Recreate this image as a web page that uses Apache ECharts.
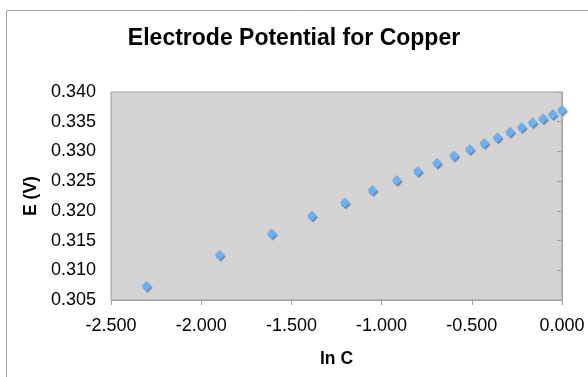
<!DOCTYPE html>
<html>
<head>
<meta charset="utf-8">
<script src="https://cdn.jsdelivr.net/npm/echarts@6/dist/echarts.min.js"></script>
<style>
html, body { margin: 0; padding: 0; background: #fff; }
#container { width: 588px; height: 377px; }
</style>
</head>
<body>
<div id="container"></div>
<script>
// ln C values and measured potentials
var lnC = [-2.303, -1.897, -1.609, -1.386, -1.204, -1.050, -0.916, -0.799, -0.693, -0.598,
           -0.511, -0.431, -0.357, -0.288, -0.223, -0.163, -0.105, -0.051, 0.000];
var potential = [0.3074, 0.3126, 0.3162, 0.3192, 0.3214, 0.3235, 0.3252, 0.3267, 0.3281, 0.3293,
                 0.3304, 0.3314, 0.3324, 0.3333, 0.3341, 0.3349, 0.3356, 0.3363, 0.3370];

var dom = document.getElementById("container");
var myChart = echarts.init(dom);

var points = lnC.map(function (x, i) { return [x, potential[i]]; });
var font = "'Liberation Sans', Arial, sans-serif";

var option = {
    animation: false,
    backgroundColor: '#fff',
    title: {
        text: 'Electrode Potential for Copper',
        left: 'center',
        top: 22,
        textStyle: { fontFamily: font, fontSize: 23, fontWeight: 'bold', color: '#000' }
    },
    graphic: [{
        type: 'rect',
        shape: { x: 6.5, y: 10.5, width: 640, height: 420 },
        style: { fill: null, stroke: '#a0a0a0', lineWidth: 1 },
        silent: true
    }],
    grid: {
        left: 111, top: 92, right: 26, bottom: 77,
        show: true,
        backgroundColor: '#d4d4d4',
        borderColor: '#a0a0a0',
        borderWidth: 1
    },
    xAxis: {
        type: 'value',
        min: -2.5, max: 0, interval: 0.5,
        name: 'ln C',
        nameLocation: 'middle',
        nameGap: 50,
        nameTextStyle: { fontFamily: font, fontSize: 17.5, fontWeight: 'bold', color: '#000' },
        axisLine: { show: true, onZero: false, lineStyle: { color: '#a0a0a0' } },
        axisTick: { show: true, length: 5, lineStyle: { color: '#a0a0a0' } },
        splitLine: { show: false },
        axisLabel: {
            fontFamily: font, fontSize: 18, color: '#000', margin: 17,
            formatter: function (v) { return v.toFixed(3); }
        }
    },
    yAxis: {
        type: 'value',
        min: 0.305, max: 0.340, interval: 0.005,
        name: 'E (V)',
        nameLocation: 'middle',
        nameGap: 70,
        nameTextStyle: { fontFamily: font, fontSize: 17.5, fontWeight: 'bold', color: '#000' },
        axisLine: { show: true, lineStyle: { color: '#a0a0a0' } },
        axisTick: { show: true, length: 5, lineStyle: { color: '#a0a0a0' } },
        splitLine: { show: false },
        axisLabel: {
            fontFamily: font, fontSize: 18, color: '#000', margin: 15,
            formatter: function (v) { return v.toFixed(3); }
        }
    },
    series: [{
        type: 'scatter',
        symbol: 'diamond',
        symbolSize: [10, 10],
        data: points,
        itemStyle: {
            color: '#66b2ff',
            opacity: 1,
            shadowColor: 'rgba(110,110,110,0.8)',
            shadowBlur: 1,
            shadowOffsetX: 1,
            shadowOffsetY: 2
        }
    }]
};

myChart.setOption(option, true);
</script>
</body>
</html>
